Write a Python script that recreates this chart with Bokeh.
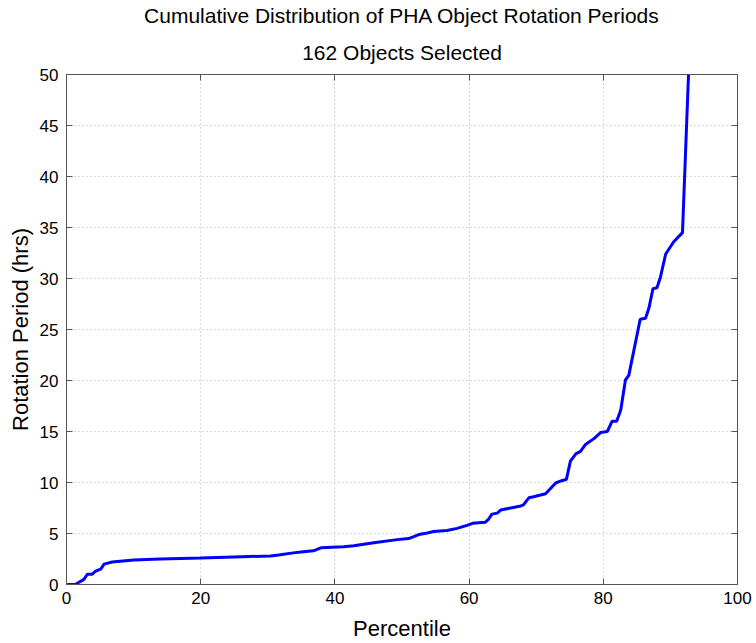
from bokeh.plotting import figure
from bokeh.models import Range1d, LinearAxis, Title, FixedTicker
from bokeh.embed import file_html
from bokeh.resources import INLINE

percentile = [0.1, 1.3, 2.6, 3.1, 3.8, 4.3, 5.1, 5.6, 6.8, 10, 14, 20, 25, 30.4, 31.6,
              33.8, 35.3, 36.8, 37.9, 41.3, 42.8, 43.8, 45.8, 49.3, 51.0, 52.5, 53.8,
              54.7, 56.7, 58.2, 59.7, 60.5, 62.4, 62.9, 63.4, 64.2, 64.7, 66.2, 67.7,
              68.1, 68.9, 69.6, 71.4, 72.9, 73.9, 74.5, 75.1, 75.9, 76.6, 77.3, 78.6,
              79.6, 80.6, 81.3, 82.0, 82.6, 83.3, 83.8, 85.5, 86.3, 86.8, 87.4, 88.0,
              88.5, 89.3, 90.5, 91.8, 93.2]
period = [0, 0, 0.5, 1.0, 1.0, 1.3, 1.5, 2.0, 2.2, 2.4, 2.5, 2.6, 2.7, 2.8, 2.9,
          3.1, 3.2, 3.3, 3.6, 3.7, 3.8, 3.9, 4.1, 4.4, 4.5, 4.9, 5.05,
          5.2, 5.3, 5.5, 5.8, 6.0, 6.1, 6.4, 6.9, 7.0, 7.3, 7.5, 7.7,
          7.8, 8.5, 8.6, 8.9, 9.95, 10.2, 10.3, 12.1, 12.8, 13.05, 13.7, 14.3,
          14.9, 15.0, 16.0, 16.0, 17.1, 20.05, 20.5, 26.0, 26.1, 27.1, 29.0, 29.1,
          30.1, 32.4, 33.6, 34.5, 58.6]

x_ticks = [0, 20, 40, 60, 80, 100]
y_ticks = [0, 5, 10, 15, 20, 25, 30, 35, 40, 45, 50]

title_main = "Cumulative Distribution of PHA Object Rotation Periods"
title_sub = "162 Objects Selected"

FONT = "Liberation Sans"
AXC = "#555555"

p = figure(width=756, height=643, output_backend="svg", toolbar_location=None,
           x_range=Range1d(0, 100), y_range=Range1d(0, 50),
           min_border_left=66, min_border_right=19, min_border_bottom=58,
           min_border_top=10, title=None)
p.background_fill_color = "white"
p.border_fill_color = "white"
p.outline_line_color = AXC
p.outline_line_width = 1

xb = p.below[0]
yl = p.left[0]

for ax, ticks in ((xb, x_ticks), (yl, y_ticks)):
    ax.ticker = FixedTicker(ticks=ticks)
    ax.major_tick_in = 6
    ax.major_tick_out = 0
    ax.minor_tick_in = 0
    ax.minor_tick_out = 0
    ax.axis_line_color = AXC
    ax.major_tick_line_color = AXC
    ax.major_label_text_font = FONT
    ax.major_label_text_font_size = "17px"
    ax.major_label_text_color = "black"
    ax.axis_label_text_font = FONT
    ax.axis_label_text_font_size = "22px"
    ax.axis_label_text_font_style = "normal"
    ax.axis_label_text_color = "black"

xb.axis_label = "Percentile"
yl.axis_label = "Rotation Period (hrs)"
xb.major_label_standoff = 7
yl.major_label_standoff = 8
xb.axis_label_standoff = 9
yl.axis_label_standoff = 4

# box axes (no labels) on right and top, closest to the frame
for loc, ticks in (("right", y_ticks), ("above", x_ticks)):
    ax = LinearAxis(ticker=FixedTicker(ticks=ticks))
    ax.major_tick_in = 6
    ax.major_tick_out = 0
    ax.minor_tick_in = 0
    ax.minor_tick_out = 0
    ax.axis_line_color = AXC
    ax.major_tick_line_color = AXC
    ax.major_label_text_font_size = "0px"
    ax.major_label_standoff = 0
    ax.major_label_text_color = None
    p.add_layout(ax, loc)

p.add_layout(Title(text=title_sub, align="center", text_font=FONT,
                   text_font_size="21px", text_font_style="normal",
                   text_color="black", standoff=22), "above")
p.add_layout(Title(text=title_main, align="center", text_font=FONT,
                   text_font_size="21px", text_font_style="normal",
                   text_color="black", standoff=2), "above")

p.xgrid.ticker = FixedTicker(ticks=x_ticks)
p.ygrid.ticker = FixedTicker(ticks=y_ticks)
p.grid.grid_line_color = "#b0b0b0"
p.grid.grid_line_dash = "1 3"
p.grid.grid_line_width = 1

p.line(percentile, period, line_color="#0000ff", line_width=3)

open("out.html", "w").write(file_html(p, INLINE))
